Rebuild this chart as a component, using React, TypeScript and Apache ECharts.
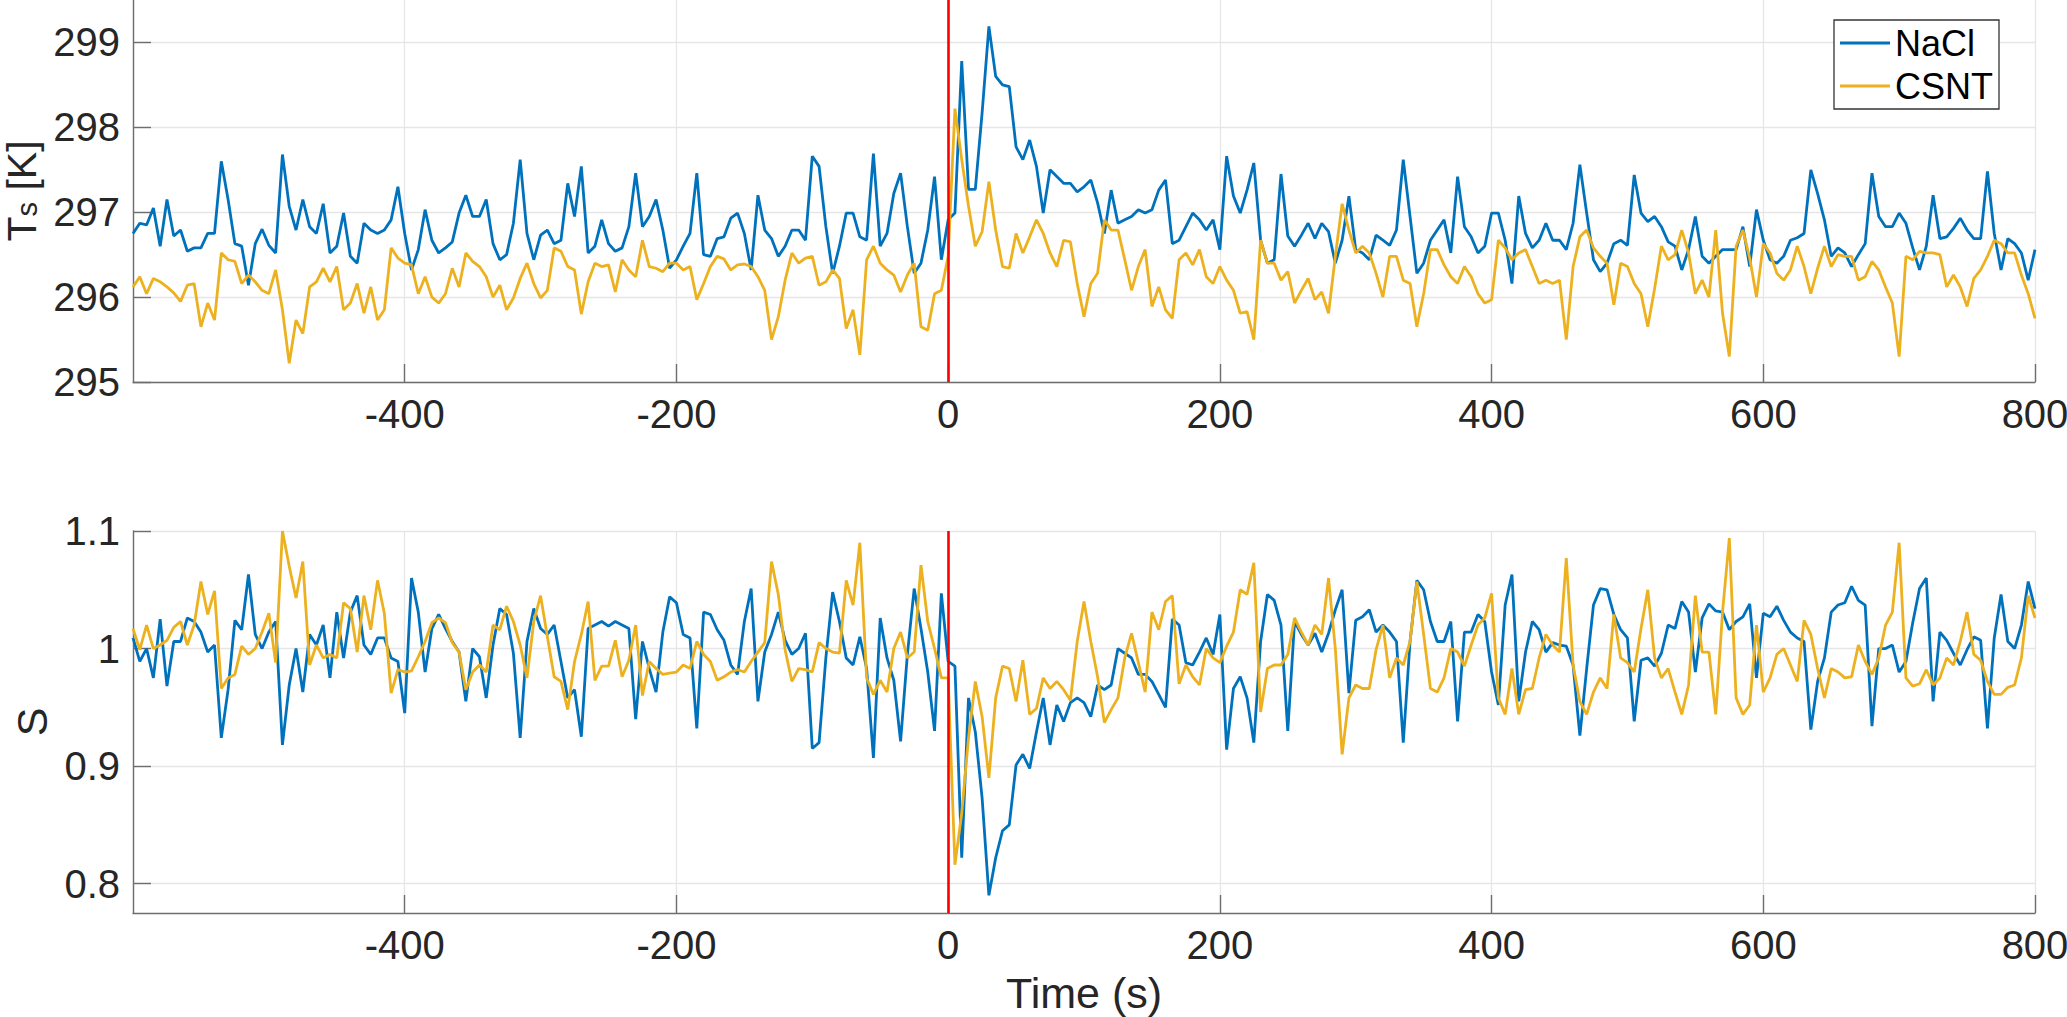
import { useEffect, useRef } from 'react';
import * as echarts from 'echarts';

const FONT = '"Liberation Sans", Arial, Helvetica, sans-serif';

// samples every 5 s from -600 s to 800 s
const T_START = -600;
const T_STEP = 5;

const X_MIN = -600;
const X_MAX = 800;
const X_INTERVAL = 200;

const seriesNames = ['NaCl', 'CSNT'];
const colors = ['#0072BD', '#EDB120'];

// surface temperature T_s [K]
const naclTs = [
  296.75, 296.87, 296.85, 297.05, 296.6, 297.15, 296.72, 296.79, 296.54, 296.58,
  296.58, 296.75, 296.75, 297.6, 297.15, 296.63, 296.6, 296.14, 296.63, 296.8,
  296.61, 296.52, 297.68, 297.07, 296.79, 297.15, 296.83, 296.75, 297.1, 296.52,
  296.6, 296.99, 296.48, 296.4, 296.87, 296.79, 296.75, 296.79, 296.91, 297.3,
  296.75, 296.32, 296.56, 297.03, 296.67, 296.52, 296.58, 296.65, 296.99, 297.2,
  296.95, 296.95, 297.15, 296.63, 296.44, 296.5, 296.87, 297.62, 296.75, 296.44,
  296.73, 296.79, 296.63, 296.67, 297.34, 296.95, 297.54, 296.52, 296.6, 296.91,
  296.63, 296.54, 296.58, 296.83, 297.46,
  296.83, 296.95, 297.15, 296.79, 296.34, 296.44, 296.6, 296.75, 297.46, 296.5,
  296.48, 296.69, 296.71, 296.93, 296.99, 296.75, 296.32, 297.2, 296.79, 296.69,
  296.48, 296.6, 296.79, 296.79, 296.67, 297.66, 297.54, 296.83, 296.28, 296.6,
  296.99, 296.99, 296.71, 296.67, 297.69, 296.6, 296.75, 297.22, 297.46, 296.83,
  296.28, 296.4, 296.79, 297.42, 296.44, 296.91, 296.99, 298.78, 297.27, 297.27,
  298.17, 299.19, 298.6, 298.5, 298.48, 297.77, 297.62, 297.85, 297.54, 296.99,
  297.5, 297.42, 297.34, 297.34, 297.24, 297.3, 297.38, 297.11, 296.75, 297.26,
  296.87, 296.91, 296.95,
  297.03, 296.99, 297.03, 297.26, 297.38, 296.63, 296.67, 296.83, 296.99, 296.91,
  296.79, 296.91, 296.56, 297.66, 297.19, 296.99, 297.26, 297.58, 296.67, 296.4,
  296.44, 297.45, 296.72, 296.6, 296.73, 296.87, 296.69, 296.87, 296.77, 296.4,
  296.67, 297.19, 296.56, 296.52, 296.44, 296.73, 296.67, 296.61, 296.79, 297.62,
  296.95, 296.28, 296.4, 296.67, 296.79, 296.91, 296.52, 297.42, 296.83, 296.71,
  296.52, 296.6, 296.99, 296.99, 296.67, 296.16, 297.19, 296.75, 296.58, 296.67,
  296.87, 296.67, 296.67, 296.56, 296.87, 297.56, 296.99, 296.44, 296.3, 296.4,
  296.63, 296.67, 296.61, 297.44,
  296.99, 296.89, 296.95, 296.83, 296.65, 296.6, 296.32, 296.56, 296.95, 296.48,
  296.4, 296.48, 296.56, 296.56, 296.56, 296.83, 296.36, 297.03, 296.67, 296.44,
  296.4, 296.48, 296.67, 296.7, 296.75, 297.5, 297.22, 296.91, 296.48, 296.58,
  296.52, 296.36, 296.5, 296.63, 297.46, 296.95, 296.83, 296.83, 296.99, 296.87,
  296.58, 296.32, 296.6, 297.2, 296.69, 296.71, 296.81, 296.93, 296.79, 296.69,
  296.69, 297.48, 296.75, 296.32, 296.69, 296.63, 296.52, 296.2, 296.56,
];

const csntTs = [
  296.12, 296.24, 296.04, 296.22, 296.18, 296.12, 296.05, 295.95, 296.14, 296.16,
  295.65, 295.93, 295.73, 296.52, 296.44, 296.42, 296.16, 296.26, 296.18, 296.08,
  296.04, 296.32, 295.85, 295.22, 295.73, 295.57, 296.12, 296.18, 296.34, 296.18,
  296.36, 295.85, 295.93, 296.16, 295.81, 296.12, 295.73, 295.85, 296.58, 296.46,
  296.4, 296.38, 296.04, 296.24, 296.0, 295.93, 296.04, 296.34, 296.12, 296.52,
  296.42, 296.36, 296.24, 296.0, 296.14, 295.85, 295.99, 296.22, 296.4, 296.16,
  295.99, 296.08, 296.58, 296.54, 296.36, 296.32, 295.8, 296.18, 296.4, 296.36,
  296.38, 296.06, 296.44, 296.32, 296.24,
  296.67, 296.36, 296.34, 296.3, 296.4, 296.4, 296.32, 296.36, 295.97, 296.16,
  296.36, 296.48, 296.45, 296.32, 296.38, 296.39, 296.36, 296.24, 296.08, 295.5,
  295.77, 296.2, 296.52, 296.4, 296.46, 296.48, 296.14, 296.18, 296.32, 296.22,
  295.63, 295.85, 295.32, 296.44, 296.6, 296.4, 296.32, 296.26, 296.06, 296.26,
  296.4, 295.65, 295.61, 296.04, 296.08, 296.48, 298.22, 297.62, 297.07, 296.6,
  296.77, 297.36, 296.79, 296.36, 296.34, 296.75, 296.52, 296.71, 296.91, 296.75,
  296.52, 296.36, 296.67, 296.65, 296.16, 295.77, 296.16, 296.28, 296.91, 296.79,
  296.79, 296.44, 296.08,
  296.36, 296.56, 295.89, 296.12, 295.85, 295.75, 296.44, 296.52, 296.38, 296.56,
  296.24, 296.16, 296.36, 296.2, 296.08, 295.81, 295.83, 295.5, 296.67, 296.4,
  296.4, 296.2, 296.3, 295.93, 296.08, 296.22, 295.97, 296.06, 295.81, 296.48,
  297.1, 296.79, 296.52, 296.6, 296.52, 296.28, 296.0, 296.48, 296.48, 296.2,
  296.16, 295.65, 296.04, 296.56, 296.56, 296.38, 296.24, 296.16, 296.36, 296.24,
  296.04, 295.93, 295.97, 296.67, 296.58, 296.44, 296.52, 296.56, 296.36, 296.16,
  296.2, 296.16, 296.2, 295.5, 296.36, 296.71, 296.79, 296.58, 296.48, 296.4,
  295.91, 296.4, 296.36, 296.16,
  296.04, 295.65, 296.1, 296.6, 296.44, 296.5, 296.79, 296.52, 296.04, 296.2,
  296.0, 296.79, 295.81, 295.3, 296.6, 296.79, 296.46, 296.0, 296.63, 296.52,
  296.28, 296.2, 296.32, 296.6, 296.36, 296.04, 296.34, 296.6, 296.36, 296.5,
  296.48, 296.48, 296.2, 296.24, 296.42, 296.32, 296.12, 295.93, 295.3, 296.48,
  296.44, 296.54, 296.52, 296.52, 296.5, 296.12, 296.26, 296.12, 295.89, 296.22,
  296.32, 296.48, 296.67, 296.63, 296.52, 296.52, 296.26, 296.04, 295.75,
];

// S
const naclS = [
  1.009, 0.989, 1.0, 0.975, 1.025, 0.968, 1.006, 1.006, 1.026, 1.023,
  1.014, 0.997, 1.003, 0.924, 0.965, 1.024, 1.016, 1.063, 1.012, 1.0,
  1.014, 1.023, 0.918, 0.969, 1.0, 0.963, 1.012, 1.003, 1.02, 0.975,
  1.031, 0.992, 1.031, 1.045, 1.003, 0.995, 1.009, 1.009, 0.992, 0.989,
  0.945, 1.06, 1.031, 0.98, 1.017, 1.029, 1.017, 1.006, 0.997, 0.955,
  1.0, 0.993, 0.958, 1.003, 1.034, 1.029, 0.996, 0.924, 1.006, 1.034,
  1.017, 1.012, 1.02, 0.989, 0.958, 0.965, 0.925, 1.017, 1.02, 1.023,
  1.019, 1.023, 1.02, 1.017, 0.94,
  1.006, 0.983, 0.963, 1.014, 1.044, 1.039, 1.012, 1.009, 0.932, 1.031,
  1.029, 1.016, 1.007, 0.986, 0.978, 1.023, 1.051, 0.955, 0.997, 1.012,
  1.031, 1.007, 0.995, 1.0, 1.013, 0.915, 0.92, 0.992, 1.048, 1.023,
  0.992, 0.986, 1.01, 0.983, 0.907, 1.026, 0.992, 0.973, 0.921, 0.995,
  1.051, 1.017, 0.98, 0.93, 1.047, 0.989, 0.985, 0.822, 0.958, 0.929,
  0.873, 0.79, 0.822, 0.845, 0.85, 0.901, 0.91, 0.898, 0.929, 0.958,
  0.918, 0.952, 0.938, 0.954, 0.958, 0.954, 0.942, 0.969, 0.965, 0.969,
  1.0, 0.996, 0.992,
  0.978, 0.978, 0.972, 0.961, 0.95, 1.025, 1.02, 0.988, 0.986, 0.997,
  1.009, 0.995, 1.029, 0.914, 0.966, 0.976, 0.958, 0.92, 1.006, 1.046,
  1.041, 1.02, 0.93, 1.023, 1.012, 1.003, 1.013, 0.997, 1.013, 1.033,
  1.05, 0.962, 1.024, 1.027, 1.033, 1.014, 1.02, 1.014, 1.006, 0.92,
  1.006, 1.058, 1.05, 1.023, 1.006, 1.006, 1.023, 0.938, 1.014, 1.014,
  1.029, 1.023, 0.98, 0.952, 1.037, 1.063, 0.955, 0.997, 1.023, 1.016,
  0.997, 1.005, 1.003, 1.002, 0.986, 0.926, 0.983, 1.037, 1.051, 1.05,
  1.029, 1.016, 1.009, 0.938,
  0.99, 0.992, 0.985, 0.996, 1.02, 1.017, 1.04, 1.031, 0.98, 1.026,
  1.038, 1.032, 1.031, 1.016, 1.023, 1.027, 1.038, 0.975, 1.03, 1.027,
  1.036, 1.024, 1.014, 1.009, 1.006, 0.931, 0.972, 0.992, 1.031, 1.037,
  1.039, 1.053, 1.041, 1.037, 0.934, 1.0, 1.0, 1.003, 0.98, 0.989,
  1.022, 1.051, 1.06, 0.955, 1.014, 1.007, 0.996, 0.986, 0.999, 1.01,
  1.007, 0.932, 1.009, 1.046, 1.006, 1.0, 1.02, 1.057, 1.034,
];

const csntS = [
  1.017, 0.999, 1.02, 1.0, 1.003, 1.007, 1.018, 1.023, 1.003, 1.02,
  1.057, 1.029, 1.049, 0.966, 0.975, 0.978, 1.002, 0.995, 1.0, 1.014,
  1.03, 0.988, 1.1, 1.07, 1.043, 1.074, 0.986, 1.003, 0.992, 0.995,
  0.992, 1.039, 1.034, 0.997, 1.045, 1.016, 1.058, 1.03, 0.962, 0.982,
  0.98, 0.981, 0.993, 1.006, 1.022, 1.026, 1.022, 1.005, 0.997, 0.965,
  0.98, 0.986, 0.98, 1.02, 1.016, 1.036, 1.023, 1.003, 0.975, 1.023,
  1.045, 1.01, 0.976, 0.972, 0.948, 0.989, 1.012, 1.04, 0.973, 0.985,
  0.985, 1.007, 0.976, 0.99, 1.02,
  0.96, 0.989, 0.983, 0.978, 0.979, 0.98, 0.986, 0.983, 1.006, 0.995,
  0.989, 0.973, 0.976, 0.98, 0.982, 0.98, 0.989, 0.997, 1.005, 1.074,
  1.046, 0.999, 0.972, 0.983, 0.982, 0.98, 1.005, 1.0, 0.997, 0.996,
  1.058, 1.037, 1.09, 0.975, 0.961, 0.973, 0.963, 1.0, 1.014, 0.992,
  0.997, 1.071, 1.023, 1.0, 0.975, 0.975, 0.816, 0.86, 0.924, 0.972,
  0.942, 0.89, 0.958, 0.985, 0.983, 0.955, 0.99, 0.944, 0.949, 0.975,
  0.966, 0.972, 0.965, 0.956, 1.006, 1.04, 1.006, 0.976, 0.937, 0.948,
  0.958, 0.992, 1.013,
  0.988, 0.963, 1.031, 1.016, 1.04, 1.045, 0.97, 0.986, 0.976, 0.969,
  1.0, 0.992, 0.988, 1.002, 1.014, 1.05, 1.046, 1.073, 0.946, 0.983,
  0.986, 0.986, 0.995, 1.026, 1.014, 1.003, 1.02, 1.012, 1.06, 1.0,
  0.91, 0.958, 0.969, 0.966, 0.966, 0.999, 1.02, 0.975, 0.992, 0.986,
  1.006, 1.057, 1.012, 0.966, 0.963, 0.975, 1.0, 0.997, 0.985, 1.003,
  1.02, 1.026, 1.047, 0.958, 0.944, 0.983, 0.944, 0.965, 0.966, 0.992,
  1.012, 1.003, 0.997, 1.077, 0.986, 0.955, 0.944, 0.963, 0.975, 0.966,
  1.029, 0.992, 0.988, 0.98,
  1.017, 1.05, 0.992, 0.975, 0.983, 0.963, 0.944, 0.969, 1.045, 0.997,
  0.997, 0.944, 1.031, 1.094, 0.958, 0.944, 0.952, 1.02, 0.963, 0.975,
  0.995, 1.0, 0.986, 0.972, 1.024, 1.012, 0.983, 0.958, 0.983, 0.98,
  0.975, 0.976, 1.003, 0.989, 0.978, 0.992, 1.02, 1.031, 1.09, 0.975,
  0.968, 0.97, 0.982, 0.969, 0.975, 0.992, 0.986, 1.006, 1.031, 0.995,
  0.99, 0.972, 0.961, 0.961, 0.967, 0.969, 0.992, 1.045, 1.026,
];

const toPairs = (vals: number[]) => vals.map((v, i) => [T_START + i * T_STEP, v]);

const AXIS_COLOR = '#6e6e6e';
const GRID_COLOR = '#e6e6e6';
const TEXT_COLOR = '#262626';

const makeX = (gridIndex: number, name: string) => ({
  type: 'value',
  gridIndex,
  min: X_MIN,
  max: X_MAX,
  interval: X_INTERVAL,
  name,
  nameLocation: 'middle',
  nameGap: 58,
  nameTextStyle: { fontSize: 43, color: TEXT_COLOR, fontFamily: FONT },
  axisLine: { show: true, onZero: false, lineStyle: { color: AXIS_COLOR, width: 1.4 } },
  axisTick: { show: true, inside: true, length: 18, lineStyle: { color: AXIS_COLOR, width: 1.4 } },
  axisLabel: { fontSize: 40, color: TEXT_COLOR, fontFamily: FONT, margin: 12, showMinLabel: false },
  splitLine: { show: true, lineStyle: { color: GRID_COLOR, width: 1.3 } },
});

const App = () => {
  const chartRef = useRef<HTMLDivElement>(null);

  useEffect(() => {
    document.body.style.margin = '0';
    if (!chartRef.current) return;
    const chart = echarts.init(chartRef.current, null, { renderer: 'svg' });

    const lineSeries = (name: string, idx: number, data: number[], axisIndex: number, withRedLine: boolean) => ({
      name,
      type: 'line',
      xAxisIndex: axisIndex,
      yAxisIndex: axisIndex,
      data: toPairs(data),
      showSymbol: false,
      symbol: 'none',
      lineStyle: { color: colors[idx], width: 2.8 },
      itemStyle: { color: colors[idx] },
      z: 2 + idx,
      markLine: withRedLine
        ? {
            silent: true,
            symbol: ['none', 'none'],
            label: { show: false },
            lineStyle: { color: '#ff0000', width: 2.6, type: 'solid' },
            data: [{ xAxis: 0 }],
          }
        : undefined,
    });

    chart.setOption({
      animation: false,
      textStyle: { fontFamily: FONT },
      legend: {
        data: seriesNames,
        orient: 'vertical',
        left: 1834,
        top: 20,
        icon: 'rect',
        itemWidth: 50,
        itemHeight: 3,
        itemGap: 3,
        padding: [3, 6, 3, 6],
        backgroundColor: '#ffffff',
        borderColor: '#333333',
        borderWidth: 1.3,
        borderRadius: 0,
        textStyle: { fontSize: 36, color: '#000000', fontFamily: FONT, lineHeight: 40 },
      },
      grid: [
        { left: 133, top: 0, width: 1902, height: 382, outerBoundsMode: 'none' },
        { left: 133, top: 531, width: 1902, height: 382, outerBoundsMode: 'none' },
      ],
      xAxis: [makeX(0, ''), makeX(1, 'Time (s)')],
      yAxis: [
        {
          type: 'value',
          gridIndex: 0,
          min: 295,
          max: 299.5,
          interval: 1,
          name: '{t|T}{s|s}{t| [K]}',
          nameLocation: 'middle',
          nameRotate: 90,
          nameGap: 90,
          nameTextStyle: {
            color: TEXT_COLOR,
            fontFamily: FONT,
            rich: {
              t: { fontSize: 41, color: TEXT_COLOR, fontFamily: FONT, lineHeight: 40 },
              s: { fontSize: 29, color: TEXT_COLOR, fontFamily: FONT, lineHeight: 40, verticalAlign: 'bottom' },
            },
          },
          axisLine: { show: true, onZero: false, lineStyle: { color: AXIS_COLOR, width: 1.4 } },
          axisTick: { show: true, inside: true, length: 18, lineStyle: { color: AXIS_COLOR, width: 1.4 } },
          axisLabel: { fontSize: 40, color: TEXT_COLOR, fontFamily: FONT, margin: 13, showMaxLabel: false },
          splitLine: { show: true, showMaxLine: false, lineStyle: { color: GRID_COLOR, width: 1.3 } },
        },
        {
          type: 'value',
          gridIndex: 1,
          min: 0.775,
          max: 1.1,
          splitNumber: 3,
          name: 'S',
          nameLocation: 'middle',
          nameRotate: 90,
          nameGap: 74,
          nameTextStyle: { fontSize: 43, color: TEXT_COLOR, fontFamily: FONT },
          axisLine: { show: true, onZero: false, lineStyle: { color: AXIS_COLOR, width: 1.4 } },
          axisTick: { show: true, inside: true, length: 18, lineStyle: { color: AXIS_COLOR, width: 1.4 } },
          axisLabel: { fontSize: 40, color: TEXT_COLOR, fontFamily: FONT, margin: 13, showMinLabel: false },
          splitLine: { show: true, showMinLine: false, lineStyle: { color: GRID_COLOR, width: 1.3 } },
        },
      ],
      series: [
        lineSeries('NaCl', 0, naclTs, 0, false),
        lineSeries('CSNT', 1, csntTs, 0, true),
        lineSeries('NaCl', 0, naclS, 1, false),
        lineSeries('CSNT', 1, csntS, 1, true),
      ],
    });

    return () => {
      chart.dispose();
    };
  }, []);

  return (
    <div
      ref={chartRef}
      style={{ position: 'absolute', left: 0, top: 0, width: '2067px', height: '1017px', background: '#ffffff' }}
    />
  );
};

export default App;
